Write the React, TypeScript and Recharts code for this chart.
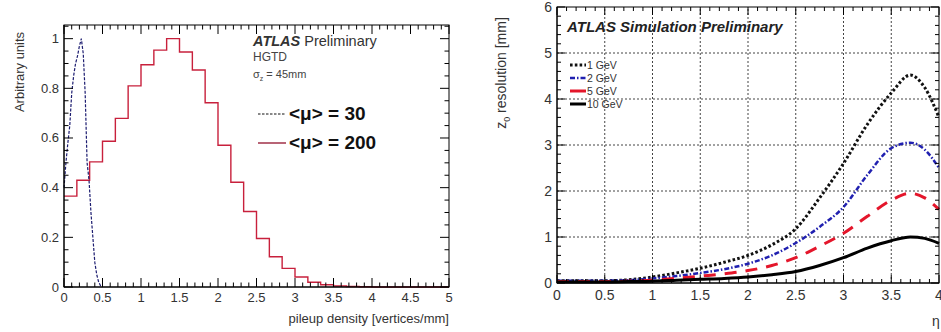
import React from "react"
import { Line, LineChart, ReferenceLine, XAxis, YAxis } from "recharts"

const font = '"Liberation Sans", Arial, Helvetica, sans-serif'

// left panel: pileup density histograms
const pileupEdges = [
  0, 0.167, 0.333, 0.5, 0.667, 0.833, 1, 1.167, 1.333, 1.5, 1.667, 1.833, 2, 2.167, 2.333, 2.5, 2.667, 2.833, 3,
  3.167, 3.333, 3.5, 3.667, 3.833, 4, 4.167, 4.333, 4.5, 4.667, 4.833, 5,
]
const mu200Values = [
  0.366, 0.43, 0.504, 0.587, 0.679, 0.81, 0.895, 0.954, 1.0, 0.946, 0.874, 0.742, 0.571, 0.422, 0.304, 0.195, 0.122,
  0.075, 0.04, 0.019, 0.009, 0.004, 0.002, 0.001, 0, 0, 0, 0, 0, 0,
]
const mu30X = [
  0, 0.025, 0.05, 0.075, 0.1, 0.125, 0.15, 0.175, 0.2, 0.225, 0.25, 0.275, 0.3, 0.325, 0.35, 0.375, 0.4, 0.425, 0.45,
  0.475, 0.5,
]
const mu30Values = [
  0.4, 0.5, 0.58, 0.65, 0.78, 0.85, 0.9, 0.93, 0.97, 1.0, 0.94, 0.78, 0.5, 0.43, 0.3, 0.2, 0.1, 0.05, 0.02, 0.005, 0,
]
const leftXMajor = [0, 0.5, 1, 1.5, 2, 2.5, 3, 3.5, 4, 4.5, 5]
const leftYMajor = [0, 0.2, 0.4, 0.6, 0.8, 1]

// right panel: z0 resolution vs eta
const eta = [0, 0.25, 0.5, 0.75, 1, 1.25, 1.5, 1.75, 2, 2.25, 2.5, 2.75, 3, 3.25, 3.5, 3.7, 3.85, 4]
const res1GeV = [0.05, 0.05, 0.05, 0.07, 0.13, 0.22, 0.32, 0.45, 0.6, 0.83, 1.18, 1.85, 2.6, 3.45, 4.13, 4.52, 4.25, 3.6]
const res2GeV = [0.05, 0.05, 0.05, 0.06, 0.1, 0.15, 0.22, 0.3, 0.42, 0.6, 0.87, 1.22, 1.65, 2.35, 2.93, 3.05, 2.9, 2.5]
const res5GeV = [0.03, 0.03, 0.03, 0.04, 0.06, 0.1, 0.15, 0.2, 0.27, 0.38, 0.55, 0.8, 1.08, 1.45, 1.8, 1.95, 1.85, 1.6]
const res10GeV = [0.02, 0.02, 0.02, 0.03, 0.04, 0.06, 0.08, 0.1, 0.13, 0.18, 0.25, 0.38, 0.55, 0.76, 0.92, 1.0, 0.97, 0.86]
const rightXMajor = [0, 0.5, 1, 1.5, 2, 2.5, 3, 3.5, 4]
const rightYMajor = [0, 1, 2, 3, 4, 5, 6]

const withMinors = (majors: number[], div: number) => {
  const out: number[] = []
  for (let i = 0; i < majors.length - 1; i++) {
    const step = (majors[i + 1] - majors[i]) / div
    for (let k = 0; k < div; k++) out.push(majors[i] + k * step)
  }
  out.push(majors[majors.length - 1])
  return out
}

const mu200Data = pileupEdges.map((x, i) => ({ x, y: mu200Values[Math.min(i, mu200Values.length - 1)] }))
const mu30Data = mu30X.map((x, i) => ({ x, y: mu30Values[i] }))
const resData = eta.map((x, i) => ({ x, g1: res1GeV[i], g2: res2GeV[i], g5: res5GeV[i], g10: res10GeV[i] }))

const leftXDomain: [number, number] = [0, 5]
const leftYDomain: [number, number] = [0, 1.055]
const rightXDomain: [number, number] = [0, 4]
const rightYDomain: [number, number] = [0, 6]
const frameLine = { stroke: "#000" }
const leftMargin = { top: 25, right: 21, bottom: 0, left: 0 }
const rightMargin = { top: 7, right: 11, bottom: 0, left: 0 }
// plot rectangles that follow from the margins and axis sizes above
const leftPlot = { left: 64, top: 25, right: 449, bottom: 287 }
const rightPlot = { left: 87, top: 7, right: 469, bottom: 283 }

const isMajor = (majors: number[], v: number) => majors.some((m) => Math.abs(m - v) < 1e-6)

const makeLabel = (side: "bottom" | "left", fontSize: number, offset: number) => (props: any) => {
  const { x, y, payload } = props
  if (side === "bottom")
    return (
      <text x={x} y={y + offset} textAnchor="middle" dominantBaseline="central" fontSize={fontSize} fill="#333" fontFamily={font}>
        {String(payload.value)}
      </text>
    )
  return (
    <text x={x - offset} y={y} textAnchor="end" dominantBaseline="central" fontSize={fontSize} fill="#333" fontFamily={font}>
      {String(payload.value)}
    </text>
  )
}
const leftBottomLabel = makeLabel("bottom", 13, 10)
const leftLeftLabel = makeLabel("left", 13, 5)
const rightBottomLabel = makeLabel("bottom", 14, 12)
const rightLeftLabel = makeLabel("left", 14, 5)

// ROOT-style frame with inward major/minor ticks on all four sides
function FrameOverlay(props: {
  width: number
  plot: { left: number; top: number; right: number; bottom: number }
  xMajor: number[]
  xDiv: number
  yMajor: number[]
  yDiv: number
  xDom: [number, number]
  yDom: [number, number]
  majorPx: number
  minorPx: number
}) {
  const { width, plot, xMajor, xDiv, yMajor, yDiv, xDom, yDom, majorPx, minorPx } = props
  const sx = (v: number) => plot.left + ((v - xDom[0]) / (xDom[1] - xDom[0])) * (plot.right - plot.left)
  const sy = (v: number) => plot.bottom - ((v - yDom[0]) / (yDom[1] - yDom[0])) * (plot.bottom - plot.top)
  const yTicks = withMinors(yMajor, yDiv)
  const extra = yMajor[yMajor.length - 1] + (yMajor[1] - yMajor[0]) / yDiv
  if (extra <= yDom[1]) yTicks.push(extra)
  return (
    <svg style={{ position: "absolute", left: 0, top: 0, pointerEvents: "none" }} width={width} height={332}>
      <rect x={plot.left} y={plot.top} width={plot.right - plot.left} height={plot.bottom - plot.top} fill="none"
        stroke="#000" strokeWidth={1} />
      {withMinors(xMajor, xDiv).map((v, i) => {
        const len = isMajor(xMajor, v) ? majorPx : minorPx
        const x = sx(v)
        return (
          <g key={"x" + i}>
            <line x1={x} x2={x} y1={plot.bottom} y2={plot.bottom - len} stroke="#000" strokeWidth={1} />
            <line x1={x} x2={x} y1={plot.top} y2={plot.top + len} stroke="#000" strokeWidth={1} />
          </g>
        )
      })}
      {yTicks.map((v, i) => {
        const len = isMajor(yMajor, v) ? majorPx : minorPx
        const y = sy(v)
        return (
          <g key={"y" + i}>
            <line x1={plot.left} x2={plot.left + len} y1={y} y2={y} stroke="#000" strokeWidth={1} />
            <line x1={plot.right} x2={plot.right - len} y1={y} y2={y} stroke="#000" strokeWidth={1} />
          </g>
        )
      })}
    </svg>
  )
}

const txt = (style: React.CSSProperties): React.CSSProperties => ({
  position: "absolute",
  whiteSpace: "nowrap",
  lineHeight: 1,
  color: "#222",
  fontFamily: font,
  ...style,
})

function PileupPanel() {
  return (
    <div style={{ position: "absolute", left: 0, top: 0, width: 470, height: 332 }}>
      <LineChart width={470} height={332} margin={leftMargin}>
        <XAxis xAxisId="b" type="number" dataKey="x" domain={leftXDomain} ticks={leftXMajor} interval={0}
          height={45} tickSize={0} tickMargin={0} tickLine={false} axisLine={frameLine} tick={leftBottomLabel} />
        <YAxis yAxisId="l" type="number" domain={leftYDomain} ticks={leftYMajor} interval={0} width={64}
          tickSize={0} tickMargin={0} tickLine={false} axisLine={frameLine} tick={leftLeftLabel} />
        <Line xAxisId="b" yAxisId="l" data={mu200Data} dataKey="y" type="stepAfter" stroke="#c8203c" strokeWidth={1.4}
          dot={false} activeDot={false} isAnimationActive={false} />
        <Line xAxisId="b" yAxisId="l" data={mu30Data} dataKey="y" type="linear" stroke="#1c1c70" strokeWidth={1.2}
          strokeDasharray="3 1.5" dot={false} activeDot={false} isAnimationActive={false} />
      </LineChart>
      <FrameOverlay width={470} plot={leftPlot} xMajor={leftXMajor} xDiv={5} yMajor={leftYMajor} yDiv={4}
        xDom={leftXDomain} yDom={leftYDomain} majorPx={9} minorPx={4.5} />
      <div style={txt({ left: 19, top: 72, fontSize: 13, color: "#333", transform: "translate(-50%, -50%) rotate(-90deg)" })}>
        Arbitrary units
      </div>
      <div style={txt({ right: 21, top: 312, fontSize: 13, color: "#333" })}>pileup density [vertices/mm]</div>
      <div style={txt({ left: 253, top: 34, fontSize: 14.5, color: "#333" })}>
        <b>
          <i>ATLAS</i>
        </b>{" "}
        Preliminary
      </div>
      <div style={txt({ left: 253, top: 51, fontSize: 12, color: "#444" })}>HGTD</div>
      <div style={txt({ left: 253, top: 69, fontSize: 11, color: "#444" })}>
        σ<sub style={{ fontSize: 7 }}>z</sub> = 45mm
      </div>
      <svg style={{ position: "absolute", left: 256, top: 106 }} width={32} height={44}>
        <line x1={2} x2={30} y1={8} y2={8} stroke="#111" strokeDasharray="2.5 1.5" strokeWidth={1} />
        <line x1={2} x2={30} y1={37} y2={37} stroke="#a03048" strokeWidth={1.5} />
      </svg>
      <div style={txt({ left: 289, top: 104, fontSize: 19, fontWeight: 700, color: "#111" })}>{"<μ> = 30"}</div>
      <div style={txt({ left: 289, top: 133, fontSize: 19, fontWeight: 700, color: "#111" })}>{"<μ> = 200"}</div>
    </div>
  )
}

const resSeries = [
  { key: "g1", label: "1 GeV", color: "#111", width: 3, dash: "2.6 2.2" },
  { key: "g2", label: "2 GeV", color: "#2020b0", width: 2.5, dash: "5 2 1.5 2" },
  { key: "g5", label: "5 GeV", color: "#e4162b", width: 3, dash: "12 9" },
  { key: "g10", label: "10 GeV", color: "#000", width: 3, dash: undefined },
]

function ResolutionPanel() {
  return (
    <div style={{ position: "absolute", left: 470, top: 0, width: 480, height: 332 }}>
      <LineChart width={480} height={332} margin={rightMargin}>
        <XAxis xAxisId="b" type="number" dataKey="x" domain={rightXDomain} ticks={rightXMajor} interval={0}
          height={49} tickSize={0} tickMargin={0} tickLine={false} axisLine={frameLine} tick={rightBottomLabel} />
        <YAxis yAxisId="l" type="number" domain={rightYDomain} ticks={rightYMajor} interval={0} width={87}
          tickSize={0} tickMargin={0} tickLine={false} axisLine={frameLine} tick={rightLeftLabel} />
        {rightXMajor.slice(1, -1).map((v) => (
          <ReferenceLine key={"gx" + v} xAxisId="b" yAxisId="l" x={v} stroke="#444" strokeDasharray="2 2" />
        ))}
        {rightYMajor.slice(1, -1).map((v) => (
          <ReferenceLine key={"gy" + v} xAxisId="b" yAxisId="l" y={v} stroke="#444" strokeDasharray="2 2" />
        ))}
        {resSeries.map((s) => (
          <Line key={s.key} xAxisId="b" yAxisId="l" data={resData} dataKey={s.key} type="monotone" stroke={s.color}
            strokeWidth={s.width} strokeDasharray={s.dash} dot={false} activeDot={false} isAnimationActive={false} />
        ))}
      </LineChart>
      <FrameOverlay width={480} plot={rightPlot} xMajor={rightXMajor} xDiv={5} yMajor={rightYMajor} yDiv={5}
        xDom={rightXDomain} yDom={rightYDomain} majorPx={8} minorPx={4} />
      <div style={txt({ left: 33, top: 73, fontSize: 14, color: "#333", transform: "translate(-50%, -50%) rotate(-90deg)" })}>
        z<sub style={{ fontSize: 9 }}>0</sub> resolution [mm]
      </div>
      <div style={txt({ left: 97, top: 19, fontSize: 15, fontWeight: 700, fontStyle: "italic", color: "#222" })}>
        ATLAS Simulation Preliminary
      </div>
      <svg style={{ position: "absolute", left: 98, top: 58 }} width={20} height={52}>
        {resSeries.map((s, i) => (
          <line key={s.key} x1={2} x2={18} y1={7 + i * 13} y2={7 + i * 13} stroke={s.color} strokeWidth={s.width}
            strokeDasharray={s.key === "g5" ? undefined : s.dash} />
        ))}
      </svg>
      {resSeries.map((s, i) => (
        <div key={s.key} style={txt({ left: 117, top: 60 + i * 13, fontSize: 10.5, color: "#333" })}>
          {s.label}
        </div>
      ))}
      <div style={txt({ left: 462, top: 314, fontSize: 14, color: "#333" })}>η</div>
    </div>
  )
}

export default function App() {
  return (
    <div style={{ position: "absolute", left: 0, top: 0, width: 941, height: 332, background: "#fff", overflow: "hidden", fontFamily: font }}>
      <PileupPanel />
      <ResolutionPanel />
    </div>
  )
}
